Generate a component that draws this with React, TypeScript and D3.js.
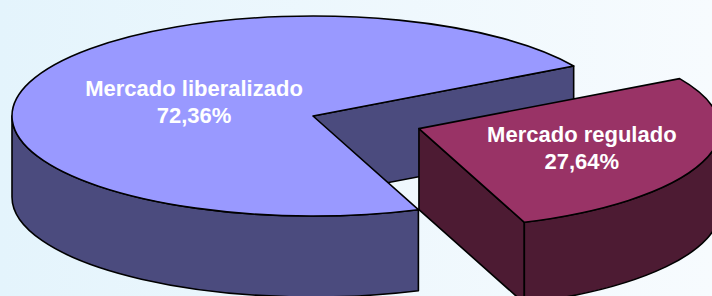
import React from "react";
import * as d3 from "d3";

const categories = ["Mercado regulado", "Mercado liberalizado"];
const shares = [27.64, 72.36];
const valueLabels = ["27,64%", "72,36%"];
const explode = [0.374, 0];
const labelRadius = [0.575, 0.42];

const topColors = ["#993366", "#9999FF"];
const sideColors = ["#4D1B33", "#4B4B7E"];

const W = 712;
const H = 296;
const CX = 313;
const CY = 116;
const RX = 301;
const RY = 100;
const DEPTH = 81;

type Slice = { a: number; b: number; i: number };

export default function App() {
  const pie = d3
    .pie<number>()
    .sort(null)
    .value((d) => d)
    .startAngle((60 * Math.PI) / 180)
    .endAngle((60 * Math.PI) / 180 + 2 * Math.PI);
  const arcs = pie(shares);

  // convert d3 angle (0 at 12 o'clock, clockwise) to screen parametric angle
  const slices: Slice[] = arcs.map((d, i) => ({
    a: d.startAngle - Math.PI / 2,
    b: d.endAngle - Math.PI / 2,
    i,
  }));

  const elements: React.ReactNode[] = [];
  const labels: React.ReactNode[] = [];

  // draw back slice (big) first, then exploded one
  const order = [1, 0];
  order.forEach((idx) => {
    const s = slices[idx];
    const mid = (s.a + s.b) / 2;
    const ox = CX + explode[idx] * RX * Math.cos(mid);
    const oy = CY + explode[idx] * RY * Math.sin(mid);
    const P = (t: number, z = 0): [number, number] => [
      ox + RX * Math.cos(t),
      oy + RY * Math.sin(t) + z,
    ];
    const f = (p: [number, number]) => `${p[0].toFixed(2)},${p[1].toFixed(2)}`;

    // inner radial faces
    const faces: number[] = [];
    if (Math.cos(s.a) < 0) faces.push(s.a);
    if (Math.cos(s.b) > 0) faces.push(s.b);
    faces.forEach((th, k) => {
      const d = `M${f([ox, oy])}L${f(P(th))}L${f(P(th, DEPTH))}L${f([ox, oy + DEPTH])}Z`;
      elements.push(
        <path key={`f${idx}-${k}`} d={d} fill={sideColors[idx]} stroke="#000" strokeWidth={1.6} strokeLinejoin="round" />
      );
    });

    // outer side (front visible part: sin t > 0)
    let a = s.a;
    const span = s.b - s.a;
    while (a < 0) a += 2 * Math.PI;
    while (a >= 2 * Math.PI) a -= 2 * Math.PI;
    const b = a + span;
    const ranges: [number, number][] = [];
    [[0, Math.PI], [2 * Math.PI, 3 * Math.PI]].forEach(([lo, hi]) => {
      const st = Math.max(a, lo);
      const en = Math.min(b, hi);
      if (en > st) ranges.push([st, en]);
    });
    ranges.forEach(([st, en], k) => {
      const d = `M${f(P(st))}A${RX},${RY} 0 0 1 ${f(P(en))}L${f(P(en, DEPTH))}A${RX},${RY} 0 0 0 ${f(P(st, DEPTH))}Z`;
      elements.push(
        <path key={`s${idx}-${k}`} d={d} fill={sideColors[idx]} stroke="#000" strokeWidth={1.6} strokeLinejoin="round" />
      );
    });

    // top face
    const large = span > Math.PI ? 1 : 0;
    const dTop = `M${f([ox, oy])}L${f(P(s.a))}A${RX},${RY} 0 ${large} 1 ${f(P(s.b))}Z`;
    elements.push(
      <path key={`t${idx}`} d={dTop} fill={topColors[idx]} stroke="#000" strokeWidth={1.6} strokeLinejoin="round" />
    );

    const lx = ox + labelRadius[idx] * RX * Math.cos(mid);
    const ly = oy + labelRadius[idx] * RY * Math.sin(mid);
    labels.push(
      <text
        key={`l${idx}`}
        textAnchor="middle"
        fill="#FFFFFF"
        fontFamily="'Liberation Sans', Arial, sans-serif"
        fontWeight="bold"
        fontSize={22}
      >
        <tspan x={lx} y={ly - 6}>{categories[idx]}</tspan>
        <tspan x={lx} y={ly + 21}>{valueLabels[idx]}</tspan>
      </text>
    );
  });

  return (
    <svg
      width={W}
      height={H}
      viewBox={`0 0 ${W} ${H}`}
      style={{ position: "absolute", left: 0, top: 0, display: "block" }}
    >
      <defs>
        <linearGradient id="bg" x1="0" y1="0" x2="1" y2="0">
          <stop offset="0" stopColor="#E4F4FC" />
          <stop offset="1" stopColor="#F7FBFE" />
        </linearGradient>
      </defs>
      <rect x={0} y={0} width={W} height={H} fill="url(#bg)" />
      {elements}
      {labels}
    </svg>
  );
}
